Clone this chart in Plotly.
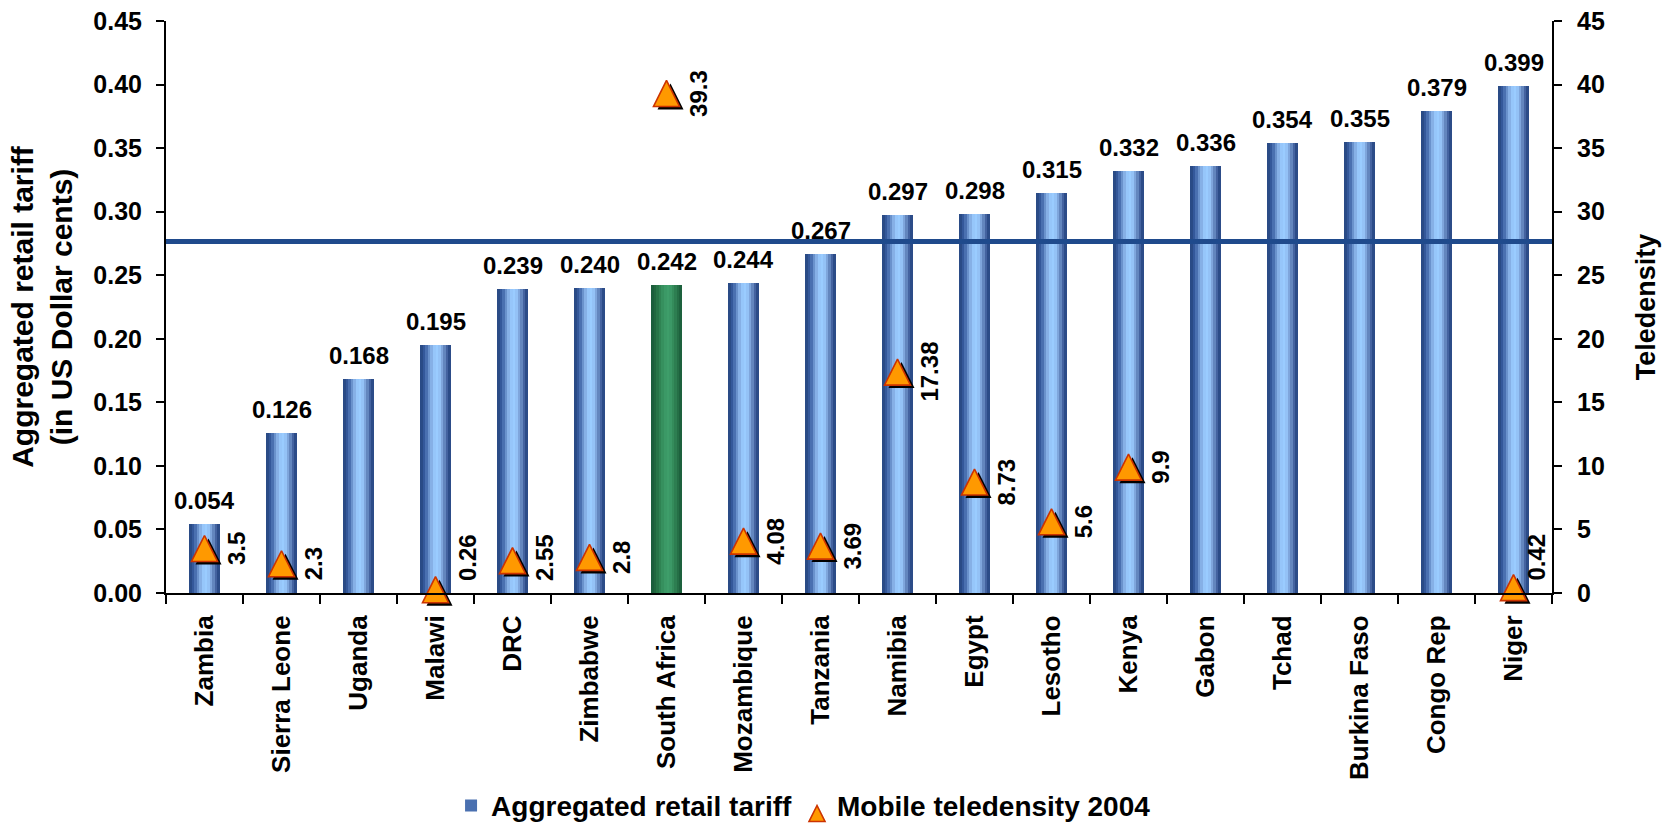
import plotly.graph_objects as go

# ---- data -------------------------------------------------------------
countries = ["Zambia", "Sierra Leone", "Uganda", "Malawi", "DRC", "Zimbabwe",
             "South Africa", "Mozambique", "Tanzania", "Namibia", "Egypt",
             "Lesotho", "Kenya", "Gabon", "Tchad", "Burkina Faso", "Congo Rep",
             "Niger"]
tariff = [0.054, 0.126, 0.168, 0.195, 0.239, 0.240, 0.242, 0.244, 0.267,
          0.297, 0.298, 0.315, 0.332, 0.336, 0.354, 0.355, 0.379, 0.399]
tariff_labels = ["0.054", "0.126", "0.168", "0.195", "0.239", "0.240",
                 "0.242", "0.244", "0.267", "0.297", "0.298", "0.315",
                 "0.332", "0.336", "0.354", "0.355", "0.379", "0.399"]

tele_countries = ["Zambia", "Sierra Leone", "Malawi", "DRC", "Zimbabwe",
                  "South Africa", "Mozambique", "Tanzania", "Namibia", "Egypt",
                  "Lesotho", "Kenya", "Niger"]
teledensity = [3.5, 2.3, 0.26, 2.55, 2.8, 39.3, 4.08, 3.69, 17.38, 8.73,
               5.6, 9.9, 0.42]
tele_labels = ["3.5", "2.3", "0.26", "2.55", "2.8", "39.3", "4.08", "3.69",
               "17.38", "8.73", "5.6", "9.9", "0.42"]

reference_level = 0.2765
highlight = "South Africa"

# ---- layout geometry -------------------------------------------------
W, H = 1668, 831
ML, MR, MT, MB = 166, 116, 21, 238
PW, PH = W - ML - MR, H - MT - MB
TARIFF_MAX, TELE_MAX = 0.45, 45
n_cat = len(countries)
px_per_cat = PW / n_cat
px_per_tele = PH / TELE_MAX

FONT = "Liberation Sans, Arial, Helvetica, sans-serif"

# cylinder-like shading of the bars, drawn as thin vertical strips
blue_shades = ["#2A4B86", "#34589A", "#4A70B0", "#6A92CC", "#86B0E6", "#96C6FA",
               "#9ACCFF", "#94C2F6", "#7FA6DC", "#6386BE", "#4463A0", "#2C4C88"]
green_shades = ["#1B5E3C", "#20683F", "#277548", "#2F8353", "#36905E", "#3B9966",
                "#3E9E6A", "#3B9866", "#348C5B", "#2D7E51", "#256F46", "#1D613D"]

bar_width = 0.4
n_strips = len(blue_shades)
strip = bar_width / n_strips

fig = go.Figure()

for i in range(n_strips):
    colors = [green_shades[i] if c == highlight else blue_shades[i] for c in countries]
    fig.add_trace(go.Bar(
        x=countries, y=tariff,
        width=strip * (1.0 if i == n_strips - 1 else 1.25),
        offset=-bar_width / 2 + i * strip,
        marker=dict(color=colors, line=dict(width=0)),
        name="Aggregated retail tariff",
        legendgroup="tariff",
        showlegend=(i == 2),
        hoverinfo="skip" if i else None,
        xaxis="x", yaxis="y",
    ))

# triangle markers (arrow-up has its tip on the point, so the helper
# y-axes are offset by half a marker to centre the shape on the value)
tri_size = 26
half_tri = (tri_size / 2) / px_per_tele
shadow_dx = 4 / px_per_cat
shadow_dy = 3 / px_per_tele

fig.add_trace(go.Scatter(
    x=tele_countries, y=teledensity, mode="markers",
    marker=dict(symbol="arrow-up", size=tri_size, color="black",
                line=dict(width=0)),
    showlegend=False, hoverinfo="skip", cliponaxis=False,
    xaxis="x2", yaxis="y4",
))
fig.add_trace(go.Scatter(
    x=tele_countries, y=teledensity, mode="markers",
    marker=dict(symbol="arrow-up", size=tri_size, color="#FF9900",
                line=dict(width=1.6, color="#CC3300")),
    name="Mobile teledensity 2004", cliponaxis=False,
    xaxis="x3", yaxis="y3",
))

# ---- annotations -----------------------------------------------------
annotations = []
for c, v, t in zip(countries, tariff, tariff_labels):
    annotations.append(dict(
        x=c, y=v, xref="x", yref="y", text=t, showarrow=False,
        yanchor="bottom", yshift=8,
        font=dict(family=FONT, size=24, color="black", weight="bold"),
    ))

LABEL_SIZE = 24
LABEL_DX = 32
for c, v, t in zip(tele_countries, teledensity, tele_labels):
    half_len = sum(0.278 if ch == "." else 0.556 for ch in t) * LABEL_SIZE / 2
    # keep rotated labels inside the plotting area
    centre_px = (countries.index(c) + 0.5) * px_per_cat
    dx = min(LABEL_DX, PW - 16 - centre_px)
    base = dict(x=c, xref="x", yref="y2", text=t, showarrow=False,
                textangle=-90, xshift=dx,
                font=dict(family=FONT, size=LABEL_SIZE, color="black", weight="bold"))
    if v * px_per_tele - half_len < 10:
        base.update(y=0, yanchor="bottom", yshift=10)
    else:
        base.update(y=v, yanchor="middle")
    annotations.append(base)

# ---- axes ------------------------------------------------------------
tick_font = dict(family=FONT, size=25, color="black", weight="bold")
cat_range = [-0.5, n_cat - 0.5]

fig.update_layout(
    width=W, height=H,
    margin=dict(l=ML, r=MR, t=MT, b=MB, autoexpand=False),
    paper_bgcolor="white", plot_bgcolor="white",
    barmode="overlay", bargap=0,
    font=dict(family=FONT, color="black"),
    xaxis=dict(
        type="category", categoryorder="array", categoryarray=countries,
        range=cat_range, tickangle=-90, tickson="boundaries",
        ticks="outside", ticklen=9, tickwidth=2, tickcolor="black",
        showline=True, linecolor="black", linewidth=2,
        showgrid=False, zeroline=False, ticklabelstandoff=10,
        tickfont=dict(family=FONT, size=26, color="black", weight="bold"),
    ),
    xaxis2=dict(
        type="category", categoryorder="array", categoryarray=countries,
        overlaying="x", visible=False,
        range=[cat_range[0] - shadow_dx, cat_range[1] - shadow_dx],
    ),
    xaxis3=dict(
        type="category", categoryorder="array", categoryarray=countries,
        overlaying="x", visible=False, range=cat_range,
    ),
    yaxis=dict(
        range=[0, TARIFF_MAX], dtick=0.05, tickformat=".2f",
        ticks="outside", ticklen=8, tickwidth=2, tickcolor="black",
        showline=True, linecolor="black", linewidth=2,
        showgrid=False, zeroline=False, ticklabelstandoff=9,
        tickfont=tick_font,
        title=dict(text="Aggregated retail tariff<br>(in US Dollar cents)",
                   standoff=12,
                   font=dict(family=FONT, size=30, color="black", weight="bold")),
    ),
    yaxis2=dict(
        overlaying="y", side="right", range=[0, TELE_MAX], dtick=5,
        ticks="outside", ticklen=8, tickwidth=2, tickcolor="black",
        showline=True, linecolor="black", linewidth=2,
        showgrid=False, zeroline=False, ticklabelstandoff=10,
        tickfont=tick_font,
        title=dict(text="Teledensity", standoff=32,
                   font=dict(family=FONT, size=27, color="black", weight="bold")),
    ),
    yaxis3=dict(overlaying="y", visible=False,
                range=[-half_tri, TELE_MAX - half_tri]),
    yaxis4=dict(overlaying="y", visible=False,
                range=[-half_tri + shadow_dy, TELE_MAX - half_tri + shadow_dy]),
    legend=dict(
        orientation="h", x=0.46, xanchor="center", y=-0.372, yanchor="middle",
        font=dict(family=FONT, size=28, color="black", weight="bold"),
        bgcolor="rgba(0,0,0,0)", itemsizing="trace", traceorder="normal",
        itemwidth=30,
    ),
    shapes=[dict(
        type="line", xref="paper", x0=0, x1=1, yref="y",
        y0=reference_level, y1=reference_level,
        line=dict(color="#1F4A8C", width=5), layer="above",
    )],
    annotations=annotations,
    showlegend=True,
)

fig.write_html("out.html")
